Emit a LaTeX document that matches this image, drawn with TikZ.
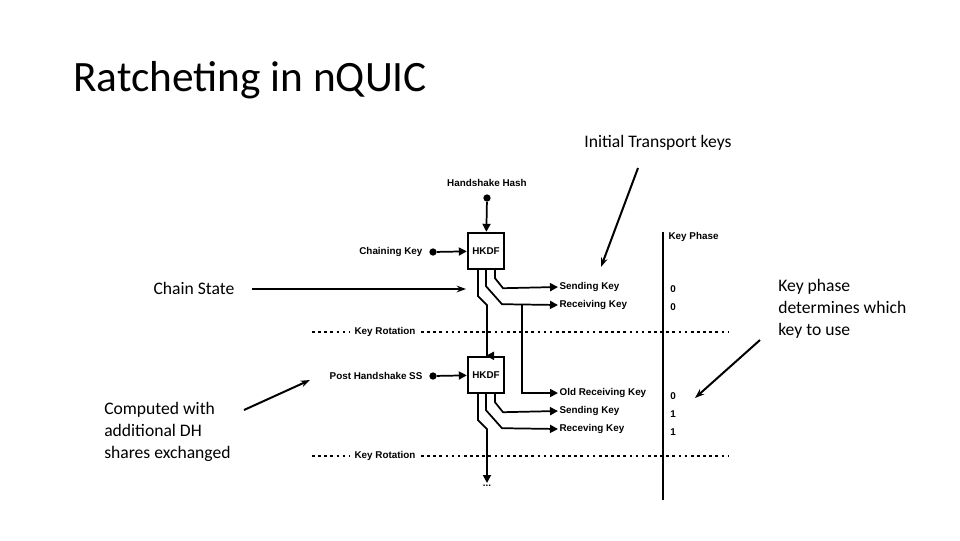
\documentclass[tikz,border=0pt]{standalone}
\usepackage{fontspec}
\setmainfont{Carlito}
\newfontfamily\diagfont{Liberation Sans Bold}
\usetikzlibrary{arrows.meta}
\begin{document}
\begin{tikzpicture}[x=0.75pt,y=-0.75pt,
  lbl/.style={font=\diagfont\fontsize{7.4}{9}\selectfont,inner sep=1pt},
  ann/.style={font=\fontsize{13.2}{16.5}\selectfont,inner sep=0pt},
  box/.style={draw,line width=1.8pt,minimum size=27pt,inner sep=0pt,font=\diagfont\fontsize{7.4}{9}\selectfont},
  ln/.style={line width=1.3pt},
  arr/.style={ln,-{Triangle[length=6pt,width=6pt]}},
  dotl/.style={line width=2pt,dash pattern=on 2pt off 2.6pt},
  pt/.style={circle,fill,inner sep=0pt,minimum size=5.5pt},
  annarr/.style={line width=1.5pt,-{Stealth[length=7pt,width=5pt]}}]
\useasboundingbox (0,0) rectangle (960,540);
\node[anchor=west,font=\fontsize{32.5}{38}\selectfont,inner sep=0pt] (title) at (73,80) {Ratcheting in nQUIC};

% HKDF boxes
\node[box] (h1) at (486,251) {HKDF};
\node[box] (h2) at (486,375) {HKDF};
\node[lbl] (hh) at (487,183) {Handshake Hash};
\node[pt] (hhd) at (487,198) {};
\draw[arr] (hhd) -- (h1);
\node[lbl,anchor=east] (ck) at (424,252) {Chaining Key};
\node[pt] (ckd) at (433,252) {};
\draw[arr] (ckd) -- (h1);
\node[lbl,anchor=east] (ps) at (424,376) {Post Handshake SS};
\node[pt] (psd) at (433,376) {};
\draw[arr] (psd) -- (h2);

% output labels
\node[lbl,anchor=west] (s1) at (558,287) {Sending Key};
\node[lbl,anchor=west] (r1) at (558,305) {Receiving Key};
\node[lbl,anchor=west] (o2) at (558,393) {Old Receiving Key};
\node[lbl,anchor=west] (s2) at (558,411) {Sending Key};
\node[lbl,anchor=west] (r2) at (558,429) {Receving Key};
\coordinate (br) at (522,305);
\coordinate (end) at (487,483);
\node[lbl] (dots) at (487,486) {...};

% first HKDF outputs
\draw[arr] (h1.south -| 478,0) -- ++(0,26) -- ++(9,9) |- (h2.north);
\draw[arr] (h1.south) -- ++(0,16) -- ++(16,18) -- (r1.west);
\draw[arr] (h1.south -| 495,0) -- ++(0,8) -- ++(8,10) -- (s1.west);
\draw[arr] (br) |- (o2.west);
% second HKDF outputs
\draw[arr] (h2.south -| 478,0) -- ++(0,26) -- ++(9,9) -- (end);
\draw[arr] (h2.south) -- ++(0,16) -- ++(16,18) -- (r2.west);
\draw[arr] (h2.south -| 495,0) -- ++(0,8) -- ++(8,10) -- (s2.west);

% key rotation lines
\node[lbl] (kr1) at (385,332) {Key Rotation};
\node[lbl] (kr2) at (385,456) {Key Rotation};
\draw[dotl] (312,332) -- ([xshift=-3pt]kr1.west);
\draw[dotl] ([xshift=3pt]kr1.east) -- (728,332);
\draw[dotl] (312,456) -- ([xshift=-3pt]kr2.west);
\draw[dotl] ([xshift=3pt]kr2.east) -- (728,456);

% key phase
\coordinate (vt) at (663,232);
\coordinate (vb) at (663,500);
\draw[line width=1.6pt] (vt) -- (vb);
\node[lbl,anchor=west] (kp) at (667,237) {Key Phase};
\node[lbl] (p1) at (673,289) {0};
\node[lbl] (p2) at (673,307) {0};
\node[lbl] (p3) at (673,396) {0};
\node[lbl] (p4) at (673,414) {1};
\node[lbl] (p5) at (673,432) {1};

% annotations
\node[ann] (itk) at (658,143) {Initial Transport keys};
\coordinate (itka) at (638,168);
\coordinate (itkb) at (601,267);
\draw[annarr] (itka) -- (itkb);
\node[ann] (cs) at (194,288) {Chain State};
\coordinate (csa) at (252,289);
\coordinate (csb) at (466,289);
\draw[annarr] (csa) -- (csb);
\node[ann,anchor=north west,align=left] (kpd) at (778,279) {Key phase\\determines which\\key to use};
\coordinate (kpa) at (760,340);
\coordinate (kpb) at (695,398);
\draw[annarr] (kpa) -- (kpb);
\node[ann,anchor=north west,align=left] (cw) at (104,402) {Computed with\\additional DH\\shares exchanged};
\coordinate (cwa) at (244,410);
\coordinate (cwb) at (310,380);
\draw[annarr] (cwa) -- (cwb);
\end{tikzpicture}
\end{document}
